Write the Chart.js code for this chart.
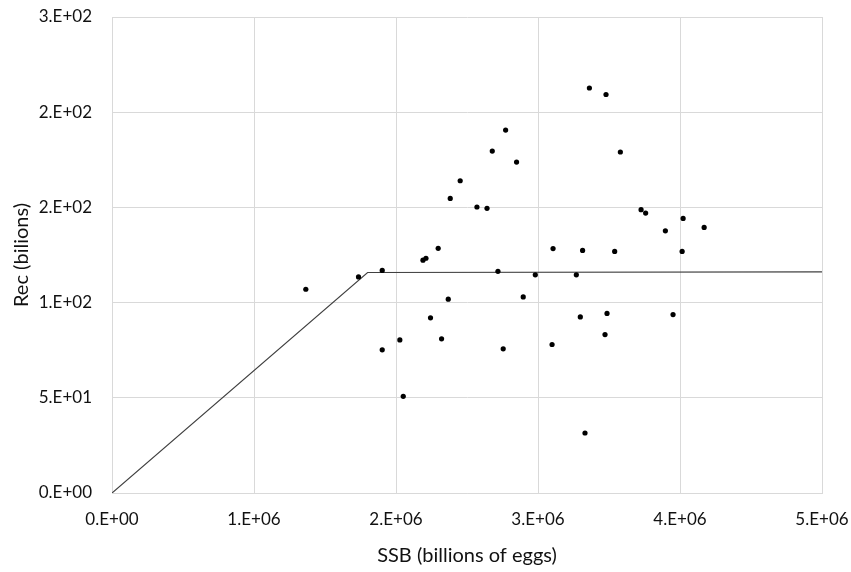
<!DOCTYPE html>
<html lang="en">
  <head>
    <meta charset="UTF-8" />
    <title>SSB vs Rec</title>
    <script src="https://cdn.jsdelivr.net/npm/chart.js"></script>
    <style>
      body {
        margin: 0;
        background: white;
      }
      .wrap {
        width: 851px;
        height: 572px;
      }
    </style>
  </head>
  <body>
    <div class="wrap"><canvas id="srChart"></canvas></div>

    <script>
      // SSB (billions of eggs) and Rec (billions)
      const ssb = [
        1.365e6, 1.736e6, 1.903e6, 1.903e6, 2.027e6, 2.051e6, 2.19e6, 2.211e6,
        2.243e6, 2.297e6, 2.321e6, 2.368e6, 2.382e6, 2.452e6, 2.57e6, 2.641e6,
        2.678e6, 2.718e6, 2.755e6, 2.772e6, 2.849e6, 2.896e6, 2.981e6, 3.099e6,
        3.106e6, 3.27e6, 3.298e6, 3.314e6, 3.331e6, 3.362e6, 3.472e6, 3.479e6,
        3.486e6, 3.54e6, 3.58e6, 3.726e6, 3.758e6, 3.897e6, 3.951e6, 4.015e6,
        4.022e6, 4.17e6,
      ];
      const rec = [
        107.0, 113.5, 116.9, 75.2, 80.4, 50.8, 122.3, 123.3,
        92.0, 128.5, 81.0, 101.8, 154.7, 164.0, 150.2, 149.5,
        179.6, 116.4, 75.7, 190.6, 173.8, 103.0, 114.6, 78.0,
        128.4, 114.6, 92.5, 127.4, 31.5, 212.7, 83.2, 209.3,
        94.3, 126.9, 179.1, 148.8, 147.0, 137.7, 93.7, 126.9,
        144.2, 139.5,
      ];

      // hockey-stick fit
      const fitSsb = [0, 1.8e6, 5e6];
      const fitRec = [0, 115.8, 116.1];

      const xTicks = [0, 1e6, 2e6, 3e6, 4e6, 5e6];
      const yTicks = [0, 50, 100, 150, 200, 250];

      function sci(v) {
        if (v === 0) return "0.E+00";
        let e = Math.floor(Math.log10(Math.abs(v)));
        let m = Math.round(v / Math.pow(10, e));
        if (m >= 10) {
          m = m / 10;
          e += 1;
        }
        return m + ".E" + (e < 0 ? "-" : "+") + String(Math.abs(e)).padStart(2, "0");
      }

      const pts = ssb.map((x, i) => ({ x: x, y: rec[i] }));
      const fit = fitSsb.map((x, i) => ({ x: x, y: fitRec[i] }));

      const gridColor = "#d9d9d9";
      const textColor = "#111";
      const fam = "Lato, 'Open Sans', sans-serif";

      new Chart(document.getElementById("srChart"), {
        type: "scatter",
        data: {
          datasets: [
            {
              label: "Rec",
              data: pts,
              backgroundColor: "#000",
              borderColor: "#000",
              pointRadius: 2.6,
              pointBorderWidth: 0,
            },
            {
              label: "Fit",
              data: fit,
              showLine: true,
              borderColor: "#404040",
              borderWidth: 1.2,
              pointRadius: 0,
              fill: false,
            },
          ],
        },
        options: {
          responsive: true,
          maintainAspectRatio: false,
          animation: false,
          layout: { padding: { top: 17, right: 29, left: 0, bottom: 0 } },
          plugins: { legend: { display: false }, tooltip: { enabled: false } },
          scales: {
            x: {
              type: "linear",
              min: 0,
              max: 5e6,
              afterBuildTicks: (s) => {
                s.ticks = xTicks.map((v) => ({ value: v }));
              },
              afterFit: (s) => {
                s.height = 79;
                s.paddingLeft = 0;
                s.paddingRight = 0;
              },
              grid: { color: gridColor, drawTicks: false },
              border: { color: gridColor },
              ticks: {
                padding: 16,
                maxRotation: 0,
                color: textColor,
                font: { family: fam, size: 17 },
                callback: (v) => sci(v),
              },
              title: {
                display: true,
                text: "SSB (billions of eggs)",
                color: textColor,
                font: { family: fam, size: 20 },
                padding: { top: 0, bottom: 4 },
              },
            },
            y: {
              type: "linear",
              min: 0,
              max: 250,
              afterBuildTicks: (s) => {
                s.ticks = yTicks.map((v) => ({ value: v }));
              },
              afterFit: (s) => {
                s.width = 112;
                s.paddingTop = 0;
                s.paddingBottom = 0;
              },
              grid: { color: gridColor, drawTicks: false },
              border: { color: gridColor },
              ticks: {
                padding: 20,
                color: textColor,
                font: { family: fam, size: 17 },
                callback: (v) => sci(v),
              },
              title: {
                display: true,
                text: "Rec (bilions)",
                color: textColor,
                font: { family: fam, size: 20 },
                padding: { top: 10, bottom: 0 },
              },
            },
          },
        },
      });
    </script>
  </body>
</html>
